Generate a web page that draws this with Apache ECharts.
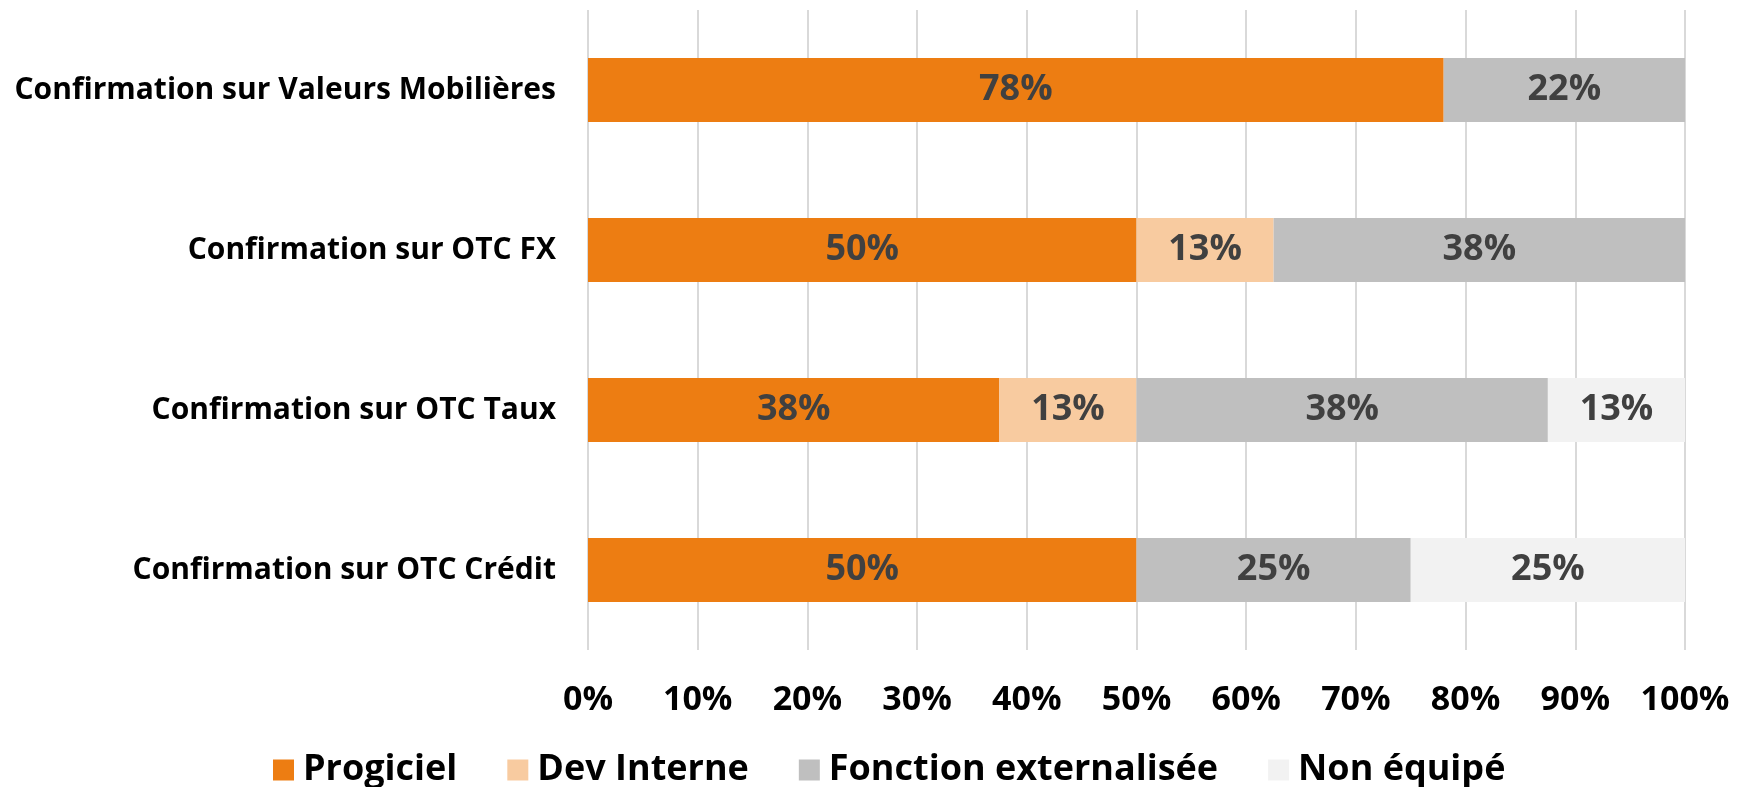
<!DOCTYPE html>
<html>
<head>
<meta charset="utf-8">
<script src="https://cdn.jsdelivr.net/npm/echarts@6/dist/echarts.min.js"></script>
<style>
  html, body { margin: 0; padding: 0; background: #fff; }
  #chart { width: 1752px; height: 787px; }
</style>
</head>
<body>
<div id="chart"></div>
<script>
// catégories (de haut en bas)
const categories = [
  'Confirmation sur Valeurs Mobilières',
  'Confirmation sur OTC FX',
  'Confirmation sur OTC Taux',
  'Confirmation sur OTC Crédit'
]
const seriesNames = ['Progiciel', 'Dev Interne', 'Fonction externalisée', 'Non équipé']
const progiciel = [78, 50, 37.5, 50]
const devInterne = [0, 12.5, 12.5, 0]
const externalisee = [22, 37.5, 37.5, 25]
const nonEquipe = [0, 0, 12.5, 25]
const colors = ['#ED7D12', '#F8CBA0', '#BFBFBF', '#F2F2F2']

const font = '"Open Sans", "Noto Sans", sans-serif'

const chart = echarts.init(document.getElementById('chart'))

const mkSeries = (name, data, color) => ({
  name,
  type: 'bar',
  stack: 'total',
  barCategoryGap: '60%',
  data,
  itemStyle: { color },
  label: {
    show: true,
    position: 'inside',
    fontFamily: font,
    fontWeight: 'bold',
    fontSize: 36,
    color: '#404040',
    formatter: p => p.value > 0 ? Math.round(p.value) + '%' : ''
  }
})

chart.setOption({
  animation: false,
  grid: { left: 588, right: 67, top: 10, bottom: 137 },
  legend: {
    data: seriesNames,
    top: 747,
    left: 268,
    itemWidth: 21,
    itemHeight: 21,
    itemGap: 50,
    icon: 'rect',
    textStyle: { fontFamily: font, fontWeight: 'bold', fontSize: 36, color: '#000', padding: [0, 0, 0, 4] }
  },
  xAxis: {
    type: 'value',
    min: 0,
    max: 100,
    interval: 10,
    axisLine: { show: false },
    axisTick: { show: false },
    splitLine: { lineStyle: { color: '#D9D9D9', width: 2 } },
    axisLabel: {
      margin: 33,
      fontFamily: font,
      fontWeight: 'bold',
      fontSize: 34,
      color: '#000',
      formatter: '{value}%'
    }
  },
  yAxis: {
    type: 'category',
    inverse: true,
    data: categories,
    axisLine: { show: false },
    axisTick: { show: false },
    axisLabel: {
      margin: 32,
      fontFamily: font,
      fontWeight: 'bold',
      fontSize: 30,
      color: '#000'
    }
  },
  series: [
    mkSeries(seriesNames[0], progiciel, colors[0]),
    mkSeries(seriesNames[1], devInterne, colors[1]),
    mkSeries(seriesNames[2], externalisee, colors[2]),
    mkSeries(seriesNames[3], nonEquipe, colors[3])
  ]
})
</script>
</body>
</html>
